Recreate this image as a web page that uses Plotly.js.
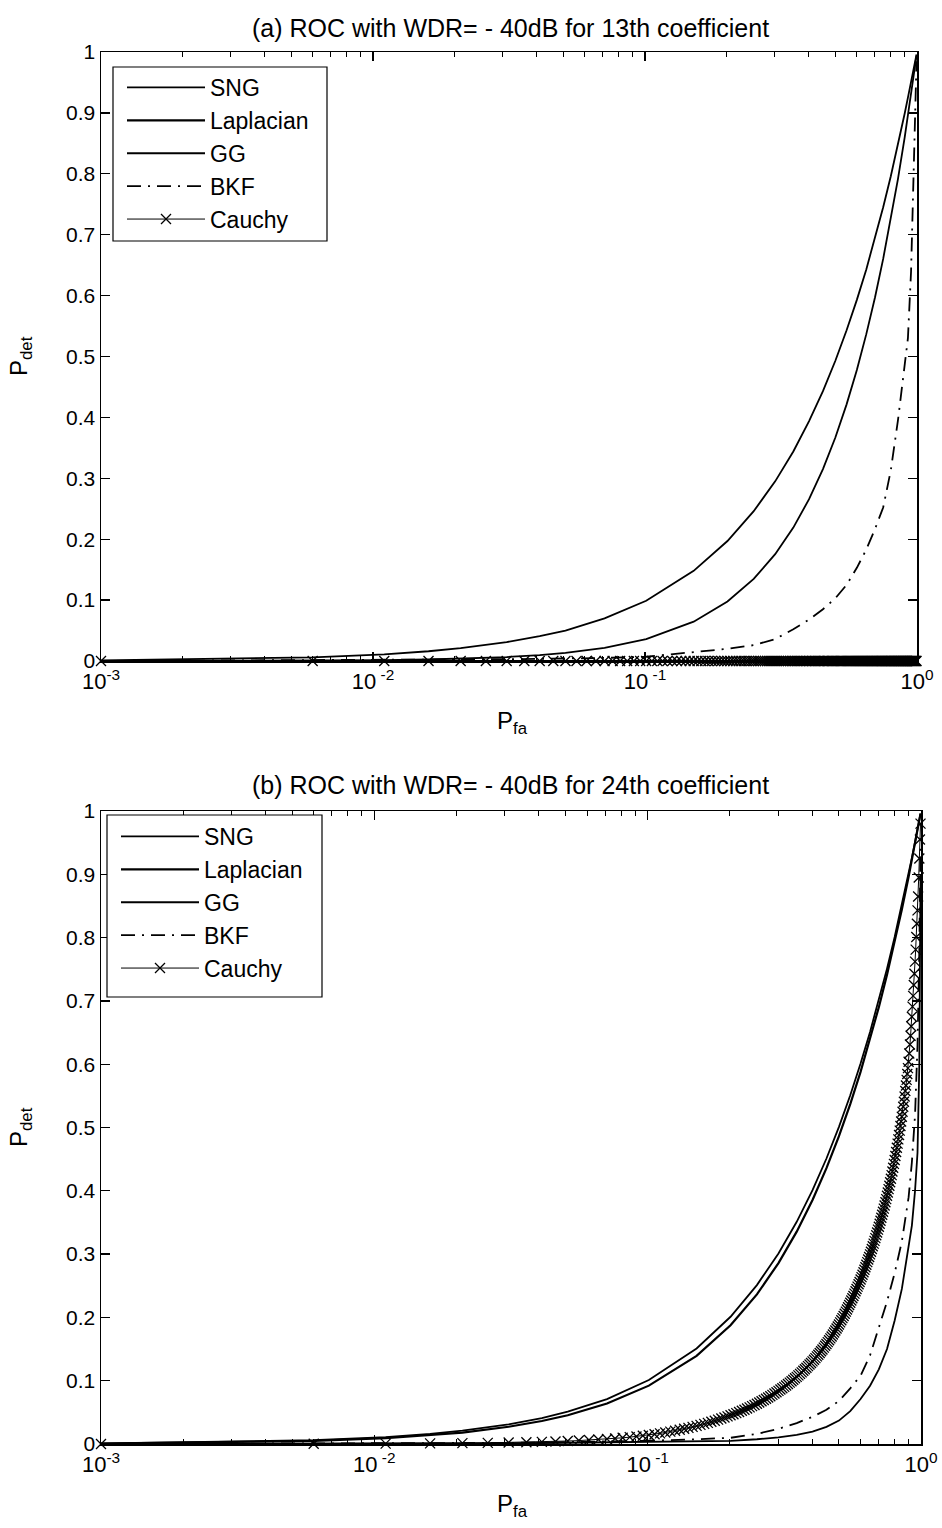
<!DOCTYPE html>
<html>
<head>
<meta charset="utf-8">
<script src="https://cdn.plot.ly/plotly-3.0.1.min.js"></script>
<style>html,body{margin:0;padding:0;background:#fff;}#chart{width:942px;height:1528px;}</style>
</head>
<body>
<div id="chart"></div>
<script>
// ---------- DATA ----------
const seriesNames = ["SNG", "Laplacian", "GG", "BKF", "Cauchy"];
const titleA = "(a) ROC with WDR= - 40dB for 13th coefficient";
const titleB = "(b) ROC with WDR= - 40dB for 24th coefficient";
const xTickVals = [0.001, 0.01, 0.1, 1];
const xTickText = ["10<sup>-3</sup>", "10<sup> -2</sup>", "10<sup> -1</sup>", "10<sup>0</sup>"];
const yTickVals = [0, 0.1, 0.2, 0.3, 0.4, 0.5, 0.6, 0.7, 0.8, 0.9, 1];
const yTickText = ["0", "0.1", "0.2", "0.3", "0.4", "0.5", "0.6", "0.7", "0.8", "0.9", "1"];
const xMinorVals = [0.002,0.003,0.004,0.005,0.006,0.007,0.008,0.009,0.02,0.03,0.04,0.05,0.06,0.07,0.08,0.09,0.2,0.3,0.4,0.5,0.6,0.7,0.8,0.9];

// Pfa sample points used for the curves
const pfaLine = [0.001,0.006,0.011,0.016,0.021,0.031,0.041,0.051,0.071,0.101,0.151,0.201,0.251,0.301,0.351,0.401,0.451,0.501,0.551,0.601,0.651,0.701,0.751,0.801,0.851,0.901,0.926,0.951,0.971,0.986,0.996];

// Panel (a) – 13th coefficient
const sngA = [0.001,0.006,0.011,0.016,0.021,0.031,0.041,0.050,0.070,0.099,0.148,0.197,0.246,0.295,0.344,0.394,0.443,0.493,0.543,0.593,0.643,0.694,0.745,0.796,0.847,0.899,0.925,0.950,0.971,0.986,0.996];
const lapA = [0,0,0,0,0,0,0,0,0,0,0,0,0,0,0,0,0,0,0,0,0,0,0,0,0,0,0,0,0,0,0];
const ggA  = [0.0000,0.0006,0.0014,0.0025,0.0037,0.0065,0.0097,0.0134,0.0216,0.036,0.0645,0.0977,0.1348,0.1754,0.219,0.2658,0.3152,0.367,0.4214,0.478,0.5367,0.5974,0.6603,0.7249,0.7914,0.8597,0.8945,0.9297,0.9582,0.9798,0.9942];
const bkfA = [0.000,0.001,0.0015,0.002,0.0025,0.003,0.0035,0.004,0.005,0.007,0.014,0.020,0.026,0.036,0.052,0.068,0.085,0.103,0.125,0.153,0.183,0.217,0.252,0.313,0.395,0.490,0.530,0.640,0.790,0.930,0.985];

// Panel (b) – 24th coefficient
const sngB = [0.001,0.006,0.011,0.016,0.021,0.031,0.041,0.051,0.071,0.101,0.151,0.201,0.251,0.301,0.351,0.401,0.451,0.501,0.551,0.601,0.651,0.701,0.751,0.801,0.851,0.901,0.926,0.951,0.971,0.986,0.996];
const lapB = [0.0008,0.0049,0.0092,0.0137,0.0181,0.0272,0.0363,0.0454,0.0639,0.0922,0.1392,0.1875,0.2364,0.2858,0.3355,0.3855,0.4358,0.4863,0.5370,0.5879,0.6389,0.6901,0.7415,0.7929,0.8445,0.8962,0.9220,0.9479,0.9687,0.9843,0.9958];
const ggB  = [0,0.0002,0.0004,0.0006,0.0008,0.0012,0.0016,0.002,0.0026,0.0033,0.0042,0.005,0.0075,0.0105,0.0145,0.0195,0.027,0.037,0.052,0.071,0.092,0.118,0.150,0.195,0.245,0.310,0.345,0.400,0.460,0.600,0.900];
const bkfB = [0,0.0005,0.0008,0.001,0.0013,0.0018,0.0023,0.0028,0.0038,0.0052,0.0075,0.0098,0.016,0.024,0.033,0.043,0.054,0.068,0.088,0.108,0.140,0.185,0.225,0.270,0.320,0.390,0.445,0.520,0.630,0.780,0.950];

// Pfa sample points of the Cauchy marker series
const pfaGrid = [
0.001,0.006,0.011,0.016,0.021,0.026,0.031,0.036,0.041,0.046,0.051,0.056,0.061,0.066,0.071,0.076,0.081,0.086,0.091,0.096,
0.101,0.106,0.111,0.116,0.121,0.126,0.131,0.136,0.141,0.146,0.151,0.156,0.161,0.166,0.171,0.176,0.181,0.186,0.191,0.196,
0.201,0.206,0.211,0.216,0.221,0.226,0.231,0.236,0.241,0.246,0.251,0.256,0.261,0.266,0.271,0.276,0.281,0.286,0.291,0.296,
0.301,0.306,0.311,0.316,0.321,0.326,0.331,0.336,0.341,0.346,0.351,0.356,0.361,0.366,0.371,0.376,0.381,0.386,0.391,0.396,
0.401,0.406,0.411,0.416,0.421,0.426,0.431,0.436,0.441,0.446,0.451,0.456,0.461,0.466,0.471,0.476,0.481,0.486,0.491,0.496,
0.501,0.506,0.511,0.516,0.521,0.526,0.531,0.536,0.541,0.546,0.551,0.556,0.561,0.566,0.571,0.576,0.581,0.586,0.591,0.596,
0.601,0.606,0.611,0.616,0.621,0.626,0.631,0.636,0.641,0.646,0.651,0.656,0.661,0.666,0.671,0.676,0.681,0.686,0.691,0.696,
0.701,0.706,0.711,0.716,0.721,0.726,0.731,0.736,0.741,0.746,0.751,0.756,0.761,0.766,0.771,0.776,0.781,0.786,0.791,0.796,
0.801,0.806,0.811,0.816,0.821,0.826,0.831,0.836,0.841,0.846,0.851,0.856,0.861,0.866,0.871,0.876,0.881,0.886,0.891,0.896,
0.901,0.906,0.911,0.916,0.921,0.926,0.931,0.936,0.941,0.946,0.951,0.956,0.961,0.966,0.971,0.976,0.981,0.986,0.991,0.996];

const cauchyA = [
0,0,0,0,0,0,0,0,0,0,0,0,0,0,0,0,0,0,0,0,
0,0,0,0,0,0,0,0,0,0,0,0,0,0,0,0,0,0,0,0,
0,0,0,0,0,0,0,0,0,0,0,0,0,0,0,0,0,0,0,0,
0,0,0,0,0,0,0,0,0,0,0,0,0,0,0,0,0,0,0,0,
0,0,0,0,0,0,0,0,0,0,0,0,0,0,0,0,0,0,0,0,
0,0,0,0,0,0,0,0,0,0,0,0,0,0,0,0,0,0,0,0,
0,0,0,0,0,0,0,0,0,0,0,0,0,0,0,0,0,0,0,0,
0,0,0,0,0,0,0,0,0,0,0,0,0,0,0,0,0,0,0,0,
0,0,0,0,0,0,0,0,0,0,0,0,0,0,0,0,0,0,0,0,
0,0,0,0,0,0,0,0,0,0,0,0,0,0,0,0,0,0,0,0];

const cauchyB = [
0.0000,0.0003,0.0006,0.0010,0.0014,0.0018,0.0023,0.0028,0.0034,0.0040,0.0047,0.0054,0.0062,0.0070,0.0079,0.0088,0.0098,0.0108,0.0119,0.0130,
0.0142,0.0155,0.0168,0.0182,0.0196,0.0210,0.0225,0.0240,0.0255,0.0270,0.0286,0.0302,0.0318,0.0334,0.0351,0.0368,0.0385,0.0402,0.0419,0.0436,
0.0453,0.0470,0.0488,0.0506,0.0524,0.0542,0.0560,0.0579,0.0598,0.0617,0.0636,0.0655,0.0675,0.0695,0.0715,0.0735,0.0755,0.0776,0.0797,0.0818,
0.0839,0.0860,0.0881,0.0903,0.0925,0.0947,0.0969,0.0992,0.1015,0.1038,0.1061,0.1084,0.1108,0.1132,0.1156,0.1180,0.1205,0.1230,0.1255,0.1280,
0.1305,0.1331,0.1357,0.1384,0.1411,0.1438,0.1466,0.1494,0.1522,0.1551,0.1580,0.1609,0.1639,0.1669,0.1699,0.1730,0.1761,0.1792,0.1824,0.1856,
0.1889,0.1922,0.1955,0.1989,0.2023,0.2057,0.2091,0.2126,0.2161,0.2196,0.2231,0.2267,0.2303,0.2339,0.2375,0.2412,0.2449,0.2486,0.2523,0.2560,
0.2598,0.2636,0.2675,0.2714,0.2753,0.2793,0.2833,0.2873,0.2914,0.2955,0.2996,0.3038,0.3080,0.3123,0.3166,0.3209,0.3253,0.3297,0.3342,0.3387,
0.3433,0.3479,0.3526,0.3573,0.3621,0.3669,0.3718,0.3768,0.3818,0.3869,0.3921,0.3973,0.4026,0.4080,0.4135,0.4191,0.4248,0.4306,0.4365,0.4425,
0.4487,0.4550,0.4614,0.4679,0.4745,0.4812,0.4881,0.4951,0.5023,0.5096,0.5171,0.5248,0.5327,0.5408,0.5491,0.5576,0.5663,0.5752,0.5844,0.5938,
0.6040,0.6170,0.6310,0.6450,0.6600,0.6750,0.6910,0.7080,0.7250,0.7430,0.7620,0.7810,0.8010,0.8220,0.8430,0.8650,0.8950,0.9250,0.9550,0.9800];

// ---------- CHART ----------
const FONT = "Liberation Sans, Arial, Helvetica, sans-serif";
const lineStyles = [
  {color: "#000", width: 1.8},
  {color: "#000", width: 2.2},
  {color: "#000", width: 1.8},
  {color: "#000", width: 1.8, dash: "14px,7px,2px,7px"},
  {color: "#000", width: 1.0}
];
const cauchyMarker = {symbol: "x-thin", size: 10, color: "#000", line: {width: 1.3, color: "#000"}};

function panelTraces(xa, ya, leg, ys, cauchyY) {
  const out = [];
  for (let i = 0; i < 4; i++) {
    out.push({x: pfaLine, y: ys[i], xaxis: xa, yaxis: ya, legend: leg, name: seriesNames[i],
      type: "scatter", mode: "lines", line: lineStyles[i], cliponaxis: false, hoverinfo: "skip"});
  }
  out.push({x: pfaGrid, y: cauchyY, xaxis: xa, yaxis: ya, legend: leg, name: seriesNames[4],
    type: "scatter", mode: "lines+markers", line: lineStyles[4], marker: cauchyMarker, cliponaxis: false, hoverinfo: "skip"});
  return out;
}

const data = [].concat(
  panelTraces("x", "y", "legend", [sngA, lapA, ggA, bkfA], cauchyA),
  panelTraces("x2", "y2", "legend2", [sngB, lapB, ggB, bkfB], cauchyB)
);

const W = 942, H = 1528;
function xAxis(l, r) {
  return {type: "log", domain: [l / W, r / W], range: [-3, 0], tickmode: "array", tickvals: xTickVals, ticktext: xTickText,
    ticks: "inside", ticklen: 9, tickwidth: 1.2, tickcolor: "#000", showline: true, linecolor: "#000", linewidth: 1.5,
    mirror: "ticks", showgrid: false, zeroline: false, tickfont: {family: FONT, size: 22, color: "#000"},
    minor: {tickmode: "array", tickvals: xMinorVals, ticks: "inside", ticklen: 5, tickwidth: 1, tickcolor: "#000", showgrid: false},
    fixedrange: true};
}
function yAxis(t, b, anchor) {
  return {domain: [1 - b / H, 1 - t / H], range: [0, 1], tickmode: "array", tickvals: yTickVals, ticktext: yTickText,
    ticks: "inside", ticklen: 9, tickwidth: 1.2, tickcolor: "#000", showline: true, linecolor: "#000", linewidth: 1.5,
    mirror: "ticks", showgrid: false, zeroline: false, anchor: anchor, tickfont: {family: FONT, size: 21, color: "#000"},
    fixedrange: true};
}
const xa = xAxis(101, 917), xb = xAxis(101, 921);
xa.anchor = "y"; xb.anchor = "y2";
const ya = yAxis(52, 661, "x"), yb = yAxis(811, 1444, "x2");

function legendAt(x, y) {
  return {x: x / W, y: 1 - y / H, xanchor: "left", yanchor: "top", bgcolor: "rgba(0,0,0,0)", borderwidth: 0,
    font: {family: FONT, size: 23, color: "#000"}, itemwidth: 78, tracegroupgap: 0, traceorder: "normal"};
}
function boxShape(x0, y0, x1, y1) {
  return {type: "rect", xref: "paper", yref: "paper", x0: x0 / W, x1: x1 / W, y0: 1 - y1 / H, y1: 1 - y0 / H,
    line: {color: "#000", width: 1.2}, fillcolor: "#fff", layer: "above"};
}

const ann = [
  {text: titleA, x: 510 / W, y: 1 - 28 / H, xref: "paper", yref: "paper", xanchor: "center", yanchor: "middle", showarrow: false, font: {family: FONT, size: 25, color: "#000"}},
  {text: titleB, x: 510 / W, y: 1 - 785 / H, xref: "paper", yref: "paper", xanchor: "center", yanchor: "middle", showarrow: false, font: {family: FONT, size: 25, color: "#000"}},
  {text: "P<sub>det</sub>", textangle: -90, x: 20 / W, y: 1 - 356 / H, xref: "paper", yref: "paper", xanchor: "center", yanchor: "middle", showarrow: false, font: {family: FONT, size: 24, color: "#000"}},
  {text: "P<sub>det</sub>", textangle: -90, x: 20 / W, y: 1 - 1127 / H, xref: "paper", yref: "paper", xanchor: "center", yanchor: "middle", showarrow: false, font: {family: FONT, size: 24, color: "#000"}},
  {text: "P<sub>fa</sub>", x: 512 / W, y: 1 - 722 / H, xref: "paper", yref: "paper", xanchor: "center", yanchor: "middle", showarrow: false, font: {family: FONT, size: 24, color: "#000"}},
  {text: "P<sub>fa</sub>", x: 512 / W, y: 1 - 1505 / H, xref: "paper", yref: "paper", xanchor: "center", yanchor: "middle", showarrow: false, font: {family: FONT, size: 24, color: "#000"}}
];

const layout = {
  width: W, height: H, margin: {l: 0, r: 0, t: 0, b: 0}, paper_bgcolor: "#fff", plot_bgcolor: "#fff",
  showlegend: true, xaxis: xa, yaxis: ya, xaxis2: xb, yaxis2: yb,
  legend: legendAt(122, 66), legend2: legendAt(116, 815), annotations: ann,
  shapes: [boxShape(113, 67, 327, 241), boxShape(107, 815, 322, 997)],
  font: {family: FONT, color: "#000"}
};

Plotly.newPlot("chart", data, layout, {staticPlot: true, displayModeBar: false});
</script>
</body>
</html>
